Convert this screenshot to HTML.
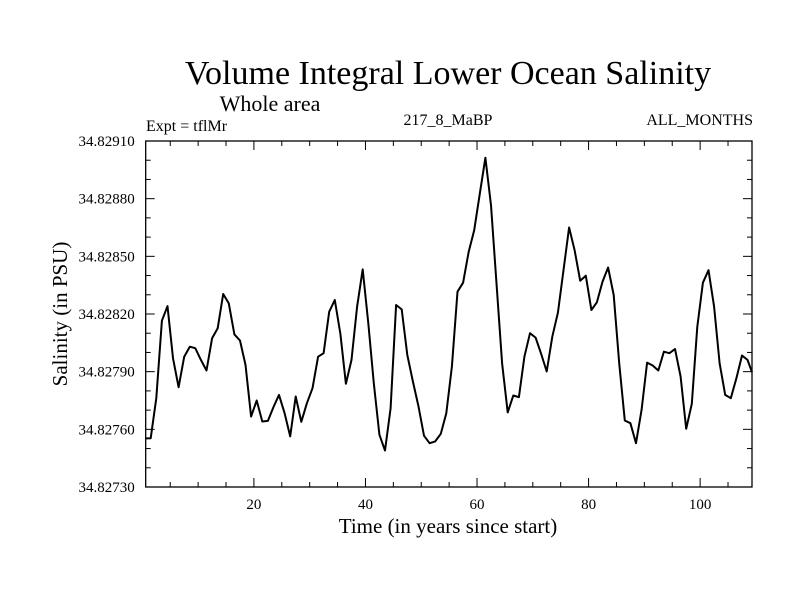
<!DOCTYPE html>
<html><head><meta charset="utf-8"><style>
body{margin:0;background:#fff}
text{font-family:"Liberation Serif",serif;fill:#000}
</style></head><body>
<svg id="chart" width="800" height="600" xmlns="http://www.w3.org/2000/svg">
<text x="448" y="84" font-size="34" text-anchor="middle">Volume Integral Lower Ocean Salinity</text>
<text x="270" y="111" font-size="22" text-anchor="middle">Whole area</text>
<text x="146" y="131" font-size="16">Expt = tflMr</text>
<text x="448" y="125" font-size="16" text-anchor="middle">217_8_MaBP</text>
<text x="753" y="125" font-size="16" text-anchor="end">ALL_MONTHS</text>
<text x="448" y="533" font-size="21" text-anchor="middle">Time (in years since start)</text>
<text transform="translate(67,314) rotate(-90)" font-size="21" text-anchor="middle">Salinity (in PSU)</text>
<g id="axes"></g>
<path id="line" fill="none" stroke="#000" stroke-width="2" stroke-linejoin="round"></path>
</svg>
<script>
const yTicks = [34.82730, 34.82760, 34.82790, 34.82820, 34.82850, 34.82880, 34.82910];
const yTickLabels = ["34.82730","34.82760","34.82790","34.82820","34.82850","34.82880","34.82910"];
const xTicks = [20, 40, 60, 80, 100];
const xTickLabels = ["20","40","60","80","100"];
const startYear = 0.5;
const salinityOffsets = [
755.3,755.4,776.2,816.5,824.1,797.0,781.9,797.8,803.0,802.2,
796.1,790.6,807.4,812.6,830.4,825.5,809.4,806.2,793.5,766.7,
775.0,764.1,764.4,771.5,777.9,768.4,756.3,777.1,763.9,773.6,
781.4,797.8,799.6,821.2,827.3,809.6,783.7,796.1,823.8,843.2,
815.2,784.0,757.2,749.0,771.0,824.7,822.4,798.7,784.9,771.9,
756.7,752.8,753.7,757.7,768.4,792.7,831.6,
836.3,852.4,863.6,882.6,901.3,876.6,835.9,794.4,768.8,777.6,
776.7,797.8,810.0,807.7,799.2,790.1,808.2,820.7,842.8,865.0,
853.2,837.3,839.9,822.1,826.1,836.8,844.2,829.9,794.4,764.6,
763.2,752.8,770.2,794.7,793.2,790.6,800.4,799.6,801.8,787.5,
760.3,773.3,813.4,836.3,842.8,823.8,794.4,777.9,776.2,786.6,
798.4,796.1,789.7];
const salinity = salinityOffsets.map(v => 34.82 + v * 1e-5);

const X0 = 145.7, X1 = 752, Y0 = 487, Y1 = 141;
const xMin = 0.6, xMax = 109.3, yMin = 34.82730, yMax = 34.82910;
const xs = t => X0 + (t - xMin) / (xMax - xMin) * (X1 - X0);
const ys = v => Y0 - (v - yMin) / (yMax - yMin) * (Y0 - Y1);
const NS = "http://www.w3.org/2000/svg";
const axes = document.getElementById('axes');
function mk(tag, attrs, parent){const e=document.createElementNS(NS,tag);for(const k in attrs)e.setAttribute(k,attrs[k]);parent.appendChild(e);return e;}

const frame = mk('rect',{x:X0,y:Y1,width:X1-X0,height:Y0-Y1,fill:'none',stroke:'#000','stroke-width':1.3},axes);



for (let t = 5; t <= 105; t += 5) {
  const x = xs(t), L = (t % 20 === 0) ? 9 : 5;
  const a = mk('line',{x1:x,x2:x,y1:Y0,y2:Y0-L,stroke:'#000','stroke-width':1},axes);
  
  
  const b = mk('line',{x1:x,x2:x,y1:Y1,y2:Y1+L,stroke:'#000','stroke-width':1},axes);
  
  
}
xTicks.forEach((t, i) => {
  const tx = mk('text',{x:xs(t),y:Y0+22,'font-size':15,'text-anchor':'middle'},axes);
  tx.textContent = xTickLabels[i];
  
  
});
for (let k = 0; k <= 18; k++) {
  const v = yMin + k * 1e-5 * 10, y = ys(v), L = (k % 3 === 0) ? 9 : 5;
  const a = mk('line',{x1:X0,x2:X0+L,y1:y,y2:y,stroke:'#000','stroke-width':1},axes);
  
  
  const b = mk('line',{x1:X1,x2:X1-L,y1:y,y2:y,stroke:'#000','stroke-width':1},axes);
  
  
}
yTicks.forEach((v, i) => {
  const tx = mk('text',{x:X0-11,y:ys(v)+5,'font-size':15,'text-anchor':'end'},axes);
  tx.textContent = yTickLabels[i];
  
  
});
let d = '';
salinity.forEach((v, i) => {
  let t = startYear + i; t = Math.max(xMin, Math.min(xMax, t));
  d += (i ? 'L' : 'M') + xs(t).toFixed(1) + ',' + ys(v).toFixed(1);
});
document.getElementById('line').setAttribute('d', d);
</script>
</body></html>
